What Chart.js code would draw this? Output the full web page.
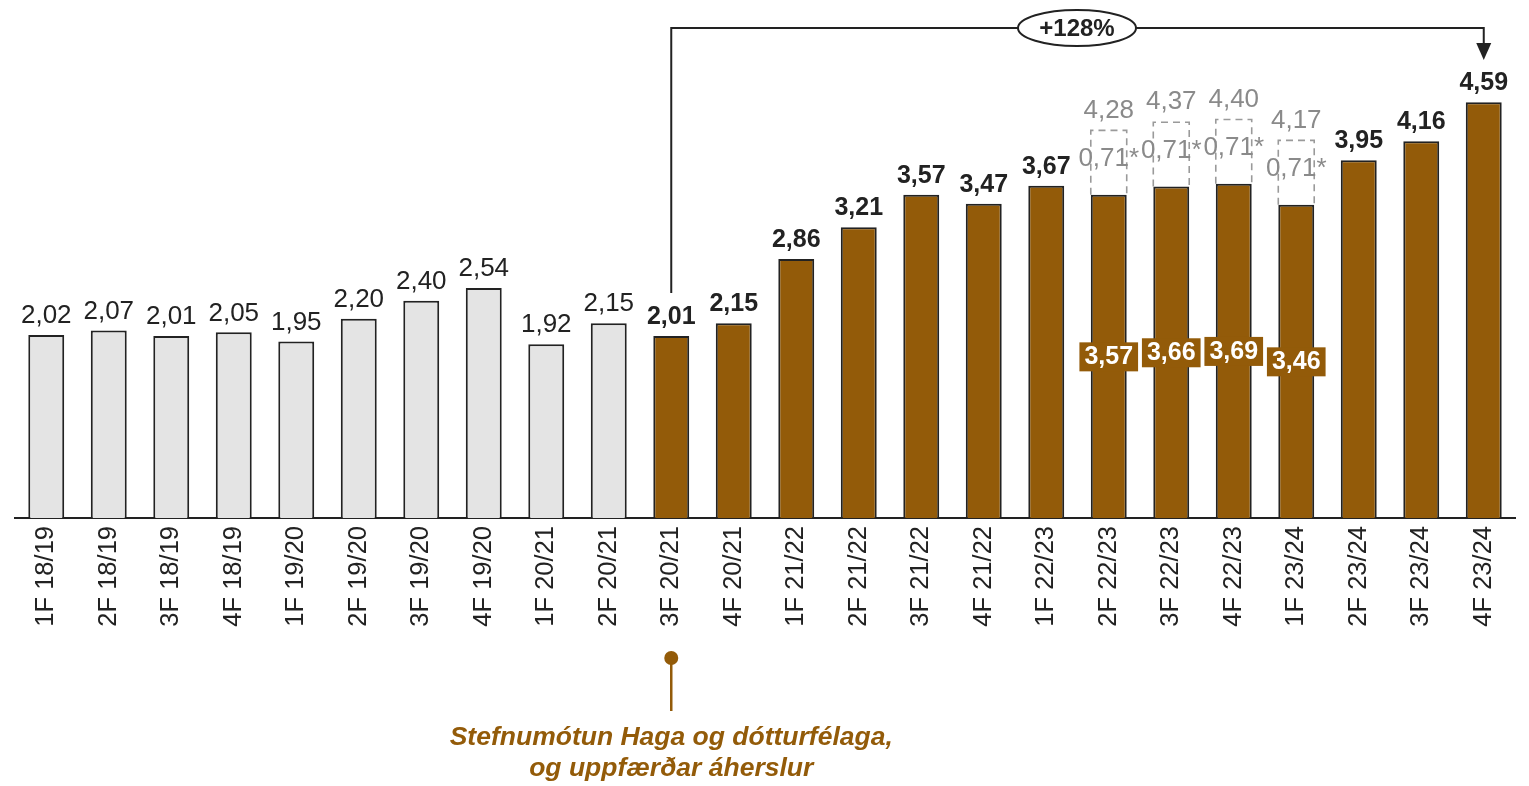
<!DOCTYPE html>
<html lang="is">
<head>
    <meta charset="UTF-8">
    <title>Hagnaður á fjórðungi</title>
    <style>
        body { margin: 0; background: #ffffff; }
        #wrap { position: relative; width: 1529px; height: 786px; }
    </style>
</head>
<body>
<div id="wrap"><canvas id="chart"></canvas></div>

<script src="https://cdn.jsdelivr.net/npm/chart.js"></script>
<script>
    // Gögn
    const categories = [
        '1F 18/19', '2F 18/19', '3F 18/19', '4F 18/19',
        '1F 19/20', '2F 19/20', '3F 19/20', '4F 19/20',
        '1F 20/21', '2F 20/21', '3F 20/21', '4F 20/21',
        '1F 21/22', '2F 21/22', '3F 21/22', '4F 21/22',
        '1F 22/23', '2F 22/23', '3F 22/23', '4F 22/23',
        '1F 23/24', '2F 23/24', '3F 23/24', '4F 23/24'
    ];
    const values = [
        2.02, 2.07, 2.01, 2.05, 1.95, 2.20, 2.40, 2.54,
        1.92, 2.15, 2.01, 2.15, 2.86, 3.21, 3.57, 3.47,
        3.67, 3.57, 3.66, 3.69, 3.46, 3.95, 4.16, 4.59
    ];
    // viðbót (*) ofan á fjórðungana 2F 22/23 - 1F 23/24
    const extraValues = [
        null, null, null, null, null, null, null, null,
        null, null, null, null, null, null, null, null,
        null, 0.71, 0.71, 0.71, 0.71, null, null, null
    ];
    const growthLabel = '+128%';
    const growthFrom = 10;   // 3F 20/21
    const growthTo = 23;     // 4F 23/24
    const noteLines = ['Stefnumótun Haga og dótturfélaga,', 'og uppfærðar áherslur'];

    const BROWN = '#935b09';
    const GREY = '#e4e4e4';
    const DARK = '#222222';
    const LABEL_GREY = '#8a8a8a';
    const FONT = '"Liberation Sans", Arial, sans-serif';

    const fmt = v => v.toFixed(2).replace('.', ',');

    // Teikning á merkjum, kössum og örvum
    const overlay = {
        id: 'overlay',
        afterDatasetsDraw(chart) {
            const ctx = chart.ctx;
            const main = chart.getDatasetMeta(0).data;
            const extra = chart.getDatasetMeta(1).data;
            ctx.save();
            ctx.textAlign = 'center';
            ctx.textBaseline = 'middle';

            // strikaðir kassar fyrir viðbót
            extraValues.forEach((v, i) => {
                if (v == null) return;
                const b = extra[i];
                const l = b.x - b.width / 2, r = b.x + b.width / 2;
                ctx.strokeStyle = '#9a9a9a';
                ctx.lineWidth = 1.6;
                ctx.setLineDash([7, 5]);
                ctx.beginPath();
                ctx.moveTo(l, b.base);
                ctx.lineTo(l, b.y);
                ctx.lineTo(r, b.y);
                ctx.lineTo(r, b.base);
                ctx.stroke();
                ctx.setLineDash([]);
                ctx.fillStyle = LABEL_GREY;
                ctx.font = '26px ' + FONT;
                ctx.fillText(fmt(v) + '*', b.x, (b.y + b.base) / 2 - 4);
                ctx.fillText(fmt(values[i] + v), b.x, b.y - 20);
            });

            // gildi á súlum
            values.forEach((v, i) => {
                const b = main[i];
                if (extraValues[i] != null) {
                    // hvítt merki í miðri súlu
                    ctx.font = 'bold 25px ' + FONT;
                    const w = ctx.measureText(fmt(v)).width + 10;
                    const cy = (b.y + b.base) / 2;
                    ctx.fillStyle = BROWN;
                    ctx.fillRect(b.x - w / 2, cy - 14, w, 29);
                    ctx.fillStyle = '#ffffff';
                    ctx.fillText(fmt(v), b.x, cy + 1);
                    return;
                }
                ctx.fillStyle = DARK;
                ctx.font = i >= growthFrom ? 'bold 25px ' + FONT : '26px ' + FONT;
                ctx.fillText(fmt(v), b.x, b.y - 19);
            });

            // ör frá 3F 20/21 til 4F 23/24
            const x1 = main[growthFrom].x, x2 = main[growthTo].x;
            const topY = 28;
            ctx.strokeStyle = DARK;
            ctx.lineWidth = 2;
            ctx.beginPath();
            ctx.moveTo(x1, 293);
            ctx.lineTo(x1, topY);
            ctx.lineTo(x2, topY);
            ctx.lineTo(x2, 44);
            ctx.stroke();
            ctx.fillStyle = DARK;
            ctx.beginPath();
            ctx.moveTo(x2 - 7.5, 43);
            ctx.lineTo(x2 + 7.5, 43);
            ctx.lineTo(x2, 60);
            ctx.closePath();
            ctx.fill();

            const ex = 1077;
            ctx.fillStyle = '#ffffff';
            ctx.beginPath();
            ctx.ellipse(ex, topY, 59, 18, 0, 0, Math.PI * 2);
            ctx.fill();
            ctx.stroke();
            ctx.fillStyle = DARK;
            ctx.font = 'bold 24px ' + FONT;
            ctx.fillText(growthLabel, ex, topY + 1);

            // athugasemd undir ás
            const nx = main[growthFrom].x;
            ctx.strokeStyle = BROWN;
            ctx.lineWidth = 2.5;
            ctx.beginPath();
            ctx.moveTo(nx, 658);
            ctx.lineTo(nx, 711);
            ctx.stroke();
            ctx.fillStyle = BROWN;
            ctx.beginPath();
            ctx.arc(nx, 658, 7, 0, Math.PI * 2);
            ctx.fill();
            ctx.font = 'italic bold 26.5px ' + FONT;
            ctx.fillText(noteLines[0], nx, 738);
            ctx.fillText(noteLines[1], nx, 769);
            ctx.restore();
        }
    };

    const ctx = document.getElementById('chart').getContext('2d');
    new Chart(ctx, {
        type: 'bar',
        data: {
            labels: categories,
            datasets: [{
                data: values,
                backgroundColor: values.map((v, i) => i >= growthFrom ? BROWN : GREY),
                borderColor: DARK,
                borderWidth: 2,
                borderSkipped: 'bottom',
                barPercentage: 0.575,
                categoryPercentage: 1
            }, {
                data: extraValues,
                backgroundColor: 'rgba(0,0,0,0)',
                borderWidth: 0,
                barPercentage: 0.575,
                categoryPercentage: 1
            }]
        },
        options: {
            responsive: true,
            maintainAspectRatio: false,
            animation: false,
            layout: { padding: { left: 15, right: 14, top: 0, bottom: 0 } },
            plugins: {
                legend: { display: false },
                tooltip: { enabled: false }
            },
            scales: {
                x: {
                    stacked: true,
                    grid: { display: false, drawTicks: false },
                    border: { display: true, color: DARK, width: 2 },
                    ticks: {
                        color: DARK,
                        font: { family: FONT, size: 25.5 },
                        minRotation: 90,
                        maxRotation: 90,
                        padding: 8,
                        autoSkip: false
                    },
                    afterFit(scale) { scale.height = 268; }
                },
                y: {
                    stacked: true,
                    display: false,
                    min: 0,
                    max: 5.72
                }
            }
        },
        plugins: [overlay]
    });
</script>
</body>
</html>
